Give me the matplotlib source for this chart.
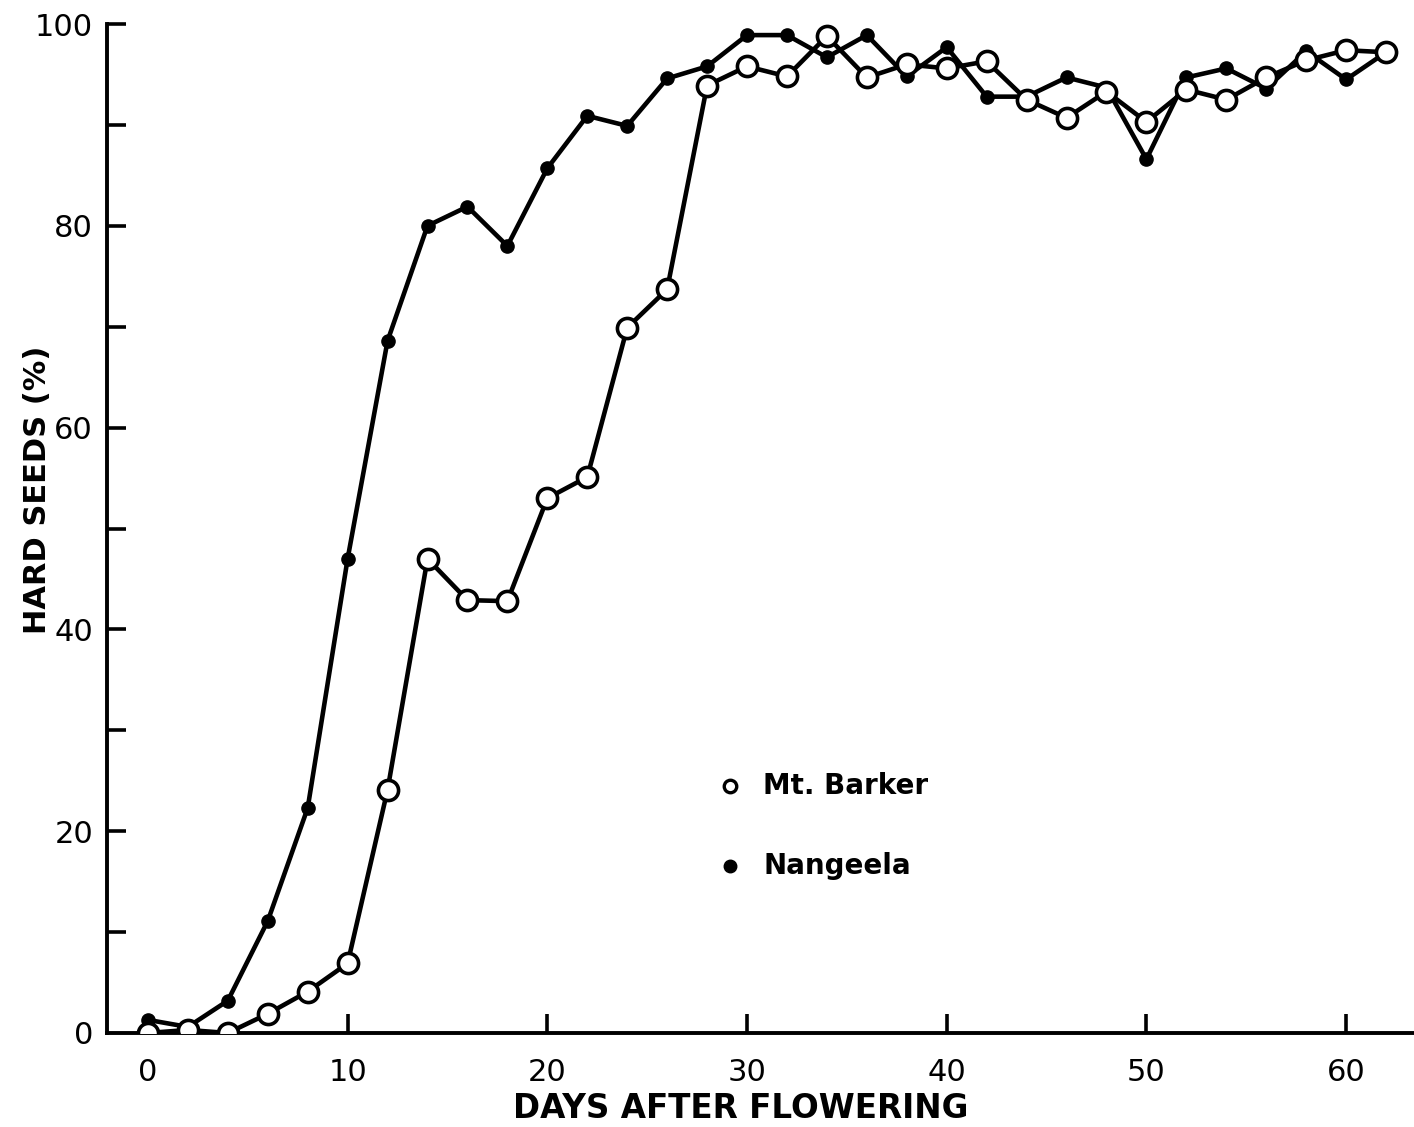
import matplotlib
matplotlib.use("Agg")
import matplotlib.pyplot as plt

days = list(range(0, 64, 2))
mt_barker = [0.0, 0.3, 0.0, 1.9, 4.1, 6.9, 24.1, 47.0, 42.9, 42.8, 53.0, 55.1,
             69.9, 73.7, 93.9, 95.8, 94.8, 98.8, 94.7, 96.0, 95.6, 96.3, 92.5,
             90.7, 93.3, 90.3, 93.5, 92.5, 94.7, 96.4, 97.4, 97.2]
nangeela = [1.3, 0.6, 3.2, 11.1, 22.3, 47.0, 68.6, 80.0, 81.9, 78.0, 85.7, 90.9,
            89.9, 94.6, 95.8, 98.9, 98.9, 96.7, 98.9, 94.8, 97.7, 92.8, 92.8,
            94.7, 93.7, 86.6, 94.7, 95.6, 93.6, 97.3, 94.5, 97.2]
xtick_vals = [0, 10, 20, 30, 40, 50, 60]
ytick_vals = [0, 10, 20, 30, 40, 50, 60, 70, 80, 90, 100]
ytick_labels = ["0", "", "20", "", "40", "", "60", "", "80", "", "100"]

W, H = 1414, 1127
fig = plt.figure(figsize=(W / 100, H / 100), dpi=100)
ax = fig.add_axes([107 / W, 1 - 1033 / H, (1414 - 107) / W, (1033 - 24) / H])

lw = 3.3
ax.plot(days, nangeela, color="black", lw=lw, marker="o", markersize=9.5,
        markerfacecolor="black", markeredgecolor="black", zorder=3)
ax.plot(days, mt_barker, color="black", lw=lw, marker="o", markersize=14.5,
        markerfacecolor="white", markeredgecolor="black", markeredgewidth=2.6,
        zorder=4)

ax.set_xlim(-2.05, 63.4)
ax.set_ylim(0, 100)

for s in ["top", "right"]:
    ax.spines[s].set_visible(False)
for s in ["left", "bottom"]:
    ax.spines[s].set_linewidth(2.8)

ax.set_xticks(xtick_vals)
ax.set_xticklabels([str(v) for v in xtick_vals])
ax.set_yticks(ytick_vals)
ax.set_yticklabels(ytick_labels)
ax.tick_params(axis="both", direction="in", length=14, width=2.6,
               labelsize=22, colors="black")
ax.tick_params(axis="x", pad=18)
ax.tick_params(axis="y", pad=10)
ax.xaxis.get_major_ticks()[0].tick1line.set_visible(False)
ax.yaxis.get_major_ticks()[0].tick1line.set_visible(False)

fig.text(38 / W, 1 - 490 / H, "HARD SEEDS (%)", rotation=90, ha="center",
         va="center", fontsize=22, fontweight="bold")
fig.text(741 / W, 1 - 1109 / H, "DAYS AFTER FLOWERING", ha="center",
         va="center", fontsize=23.5, fontweight="bold")

# legend (manual, as in original)
fig.lines.append(plt.Line2D([730 / W], [1 - 786 / H], transform=fig.transFigure,
                            marker="o", markersize=9, markerfacecolor="white",
                            markeredgecolor="black", markeredgewidth=2.4))
fig.lines.append(plt.Line2D([730 / W], [1 - 866 / H], transform=fig.transFigure,
                            marker="o", markersize=9, markerfacecolor="black",
                            markeredgecolor="black"))
fig.text(763 / W, 1 - 786 / H, "Mt. Barker", ha="left", va="center",
         fontsize=20, fontweight="bold")
fig.text(763 / W, 1 - 866 / H, "Nangeela", ha="left", va="center",
         fontsize=20, fontweight="bold")

fig.savefig("out.png", dpi=100, facecolor="white")
